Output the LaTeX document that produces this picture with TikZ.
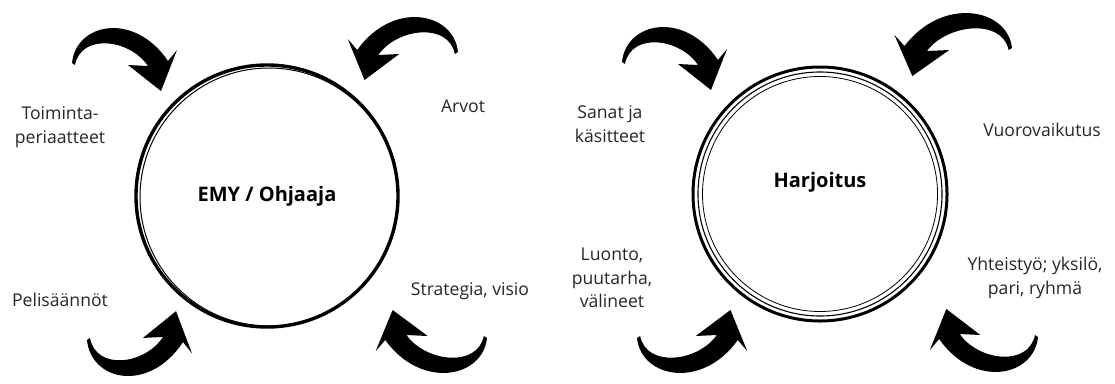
\documentclass[tikz,border=0pt]{standalone}
\usepackage{fontspec}
\setmainfont{Open Sans}
\usepackage{tikz}
\usetikzlibrary{positioning}

\tikzset{
  brusharrow/.pic={
    \fill (0,0) .. controls (4,-40) and (62,-52) .. (96,-2)
      -- (105,-13) -- (89,28) -- (56,2) -- (76,3)
      .. controls (58,-24) and (9,-30) .. (3,2) -- cycle;
  }
}

\begin{document}
\begin{tikzpicture}[
  x=1pt, y=-1pt,
  lbl/.style={align=center, font=\fontsize{17.6}{23.5}\selectfont, text=black!85},
  centerlbl/.style={font=\bfseries\fontsize{20}{24}\selectfont},
  emyring/.style={circle, draw, line width=3.4pt, minimum size=262pt, inner sep=0pt},
  harjring/.style={circle, draw, line width=3pt, minimum size=254pt, inner sep=0pt},
  innerring/.style={draw, line width=1.1pt}
]
\useasboundingbox (0,0) rectangle (1115,383);

% Left circle
\node[emyring, centerlbl] (emy) at (267,196) {EMY / Ohjaaja};
\draw[line width=1pt] (emy.center) ++(2,1) circle[radius=129];

% Right circle
\node[harjring] (harj) at (820,194) {};
\draw[innerring] (harj.center) circle[radius=122];
\draw[innerring, line width=0.8pt] (harj.center) circle[radius=117.5];
\node[centerlbl] (harjlbl) at (820,182) {Harjoitus};

% Labels - left
\node[lbl] (toim) at (60,127) {Toiminta-\\periaatteet};
\node[lbl] (peli) at (60,300) {Pelisäännöt};
\node[lbl] (arvot) at (463,106) {Arvot};
\node[lbl] (strat) at (470,291) {Strategia, visio};

% Labels - right
\node[lbl] (sanat) at (610,124) {Sanat ja\\käsitteet};
\node[lbl] (luonto) at (612,278) {Luonto,\\puutarha,\\välineet};
\node[lbl] (vuoro) at (1042,130) {Vuorovaikutus};
\node[lbl] (yhteis) at (1035,278) {Yhteistyö; yksilö,\\pari, ryhmä};

% Arrows - left
\pic (arrA) at (72,63) {brusharrow};
\pic[xscale=-1.05] (arrB) at (458,52) {brusharrow};
\pic[yscale=-1.03] (arrC) at (87,340) {brusharrow};
\pic[xscale=-1.06, yscale=-1] (arrD) at (487,338) {brusharrow};

% Arrows - right
\pic (arrE) at (622,62) {brusharrow};
\pic[xscale=-1.12] (arrF) at (1012,48) {brusharrow};
\pic[xscale=1.05, yscale=-1] (arrG) at (637,338) {brusharrow};
\pic[xscale=-1.03, yscale=-1] (arrH) at (1038,337) {brusharrow};

\end{tikzpicture}
\end{document}
